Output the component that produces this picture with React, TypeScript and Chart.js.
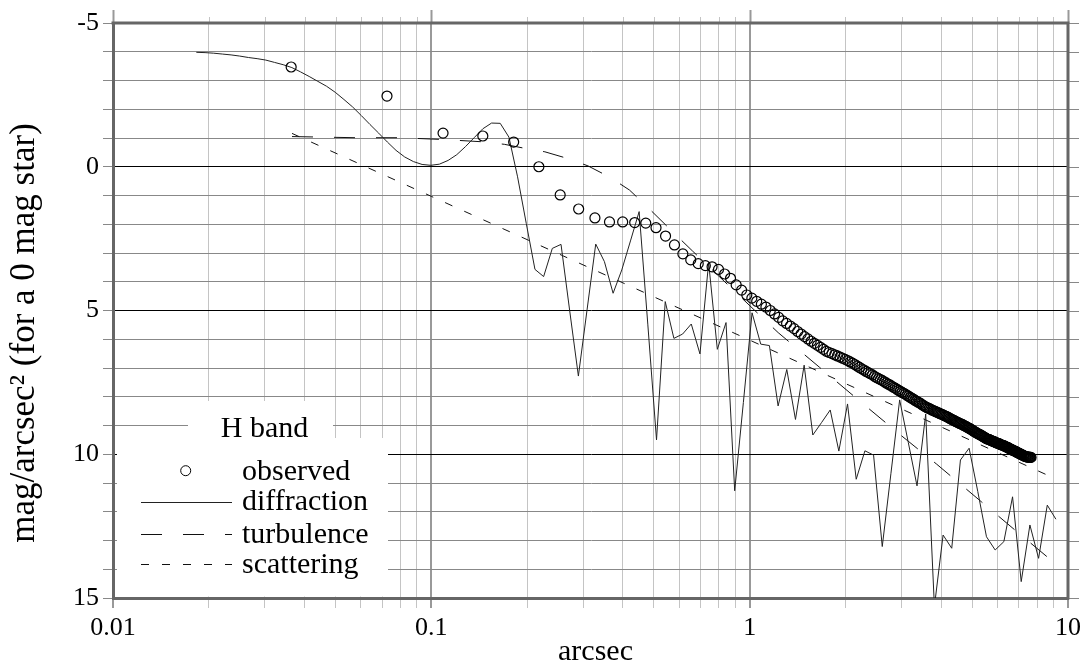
import React, { useEffect, useRef } from 'react';
import { Chart, registerables } from 'chart.js';

Chart.register(...registerables);

const FONT = "'Liberation Serif', 'DejaVu Serif', serif";

// ---------------- data ----------------
// observed: one point per annulus of the detector (annulus width in arcsec)
const ANNULUS = 0.03628;
const observedMag = [
  -3.47, -2.46, -1.17, -1.07, -0.86, 0.0, 0.98, 1.47, 1.78, 1.92, 1.92, 1.94, 1.96, 2.12, 2.41, 2.72, 3.03, 3.24, 3.37, 3.44,
  3.48, 3.57, 3.73, 3.88, 4.11, 4.29, 4.46,
  4.57, 4.68, 4.78, 4.88, 5.0, 5.12, 5.24, 5.36, 5.45, 5.54,
  5.63, 5.73, 5.82, 5.91, 5.99, 6.07, 6.14, 6.21, 6.28, 6.35,
  6.42, 6.46, 6.5, 6.54, 6.58, 6.62, 6.66, 6.7, 6.74, 6.79,
  6.83, 6.88, 6.93, 6.98, 7.03, 7.07, 7.12, 7.16, 7.2, 7.24,
  7.29, 7.33, 7.37, 7.4, 7.44, 7.48, 7.52, 7.56, 7.59, 7.63,
  7.67, 7.7, 7.74, 7.78, 7.81, 7.85, 7.88, 7.91, 7.95, 7.98,
  8.02, 8.05, 8.08, 8.12, 8.15, 8.18, 8.21, 8.24, 8.28, 8.31,
  8.34, 8.37, 8.39, 8.41, 8.43, 8.46, 8.48, 8.5, 8.52, 8.54,
  8.56, 8.58, 8.6, 8.62, 8.64, 8.66, 8.68, 8.7, 8.72, 8.75,
  8.77, 8.79, 8.81, 8.83, 8.85, 8.87, 8.89, 8.91, 8.93, 8.94,
  8.96, 8.98, 9.0, 9.02, 9.04, 9.06, 9.08, 9.1, 9.12, 9.14,
  9.16, 9.19, 9.21, 9.23, 9.25, 9.27, 9.29, 9.31, 9.32, 9.34,
  9.36, 9.38, 9.4, 9.42, 9.44, 9.46, 9.47, 9.48, 9.49, 9.51,
  9.52, 9.53, 9.55, 9.56, 9.57, 9.58, 9.6, 9.61, 9.62, 9.63,
  9.64, 9.66, 9.67, 9.68, 9.69, 9.7, 9.71, 9.73, 9.74, 9.75,
  9.76, 9.78, 9.79, 9.81, 9.82, 9.83, 9.85, 9.86, 9.87, 9.88,
  9.9, 9.91, 9.92, 9.94, 9.95, 9.96, 9.97, 9.99, 10.0, 10.01,
  10.02, 10.04, 10.05, 10.06, 10.07, 10.08, 10.09, 10.09, 10.1, 10.1,
  10.1, 10.11, 10.11, 10.11,
];

const diffractionRadius = [
  0.01827, 0.01946, 0.02072, 0.02206, 0.02349, 0.02501, 0.02663, 0.02836, 0.0302, 0.03215,
  0.03424, 0.03646, 0.03882, 0.04133, 0.04401, 0.04687, 0.0499, 0.05314, 0.05658, 0.06026,
  0.06416, 0.06832, 0.07275, 0.07746, 0.08248, 0.08783, 0.09353, 0.09961, 0.106, 0.1129,
  0.1202, 0.128, 0.1363, 0.1451, 0.1546, 0.1646, 0.1753, 0.1866, 0.1987, 0.2116,
  0.2253, 0.2399, 0.2555, 0.272, 0.2897, 0.3084, 0.3284, 0.3497, 0.3724, 0.3965,
  0.4222, 0.4496, 0.4788, 0.5098, 0.5429, 0.5781, 0.6156, 0.6555, 0.698, 0.7433,
  0.7915, 0.8428, 0.8974, 0.9555, 1.0174, 1.0834, 1.1535, 1.2283, 1.308, 1.3928,
  1.483, 1.5791, 1.6815, 1.7906, 1.9061, 2.0297, 2.1613, 2.3015, 2.4506, 2.6094,
  2.7787, 2.9589, 3.1514, 3.3551, 3.5727, 3.8046, 4.0514, 4.3132, 4.5929, 4.8908,
  5.208, 5.5452, 5.9049, 6.2878, 6.6958, 7.1285, 7.591, 8.0835, 8.6077, 9.1622,
];
const diffractionMag = [
  -3.98, -3.97, -3.95, -3.92, -3.89, -3.85, -3.8, -3.76, -3.71, -3.63,
  -3.55, -3.45, -3.3, -3.14, -2.97, -2.8, -2.59, -2.34, -2.08, -1.78,
  -1.47, -1.17, -0.86, -0.57, -0.34, -0.18, -0.08, -0.05, -0.09, -0.22,
  -0.42, -0.7, -1.01, -1.32, -1.52, -1.51, -1.03, 0.35, 1.97, 3.57,
  3.82, 2.84, 2.7, 5.0, 7.28, 4.98, 2.69, 3.3, 4.4, 3.59,
  2.58, 1.56, 5.5, 9.5, 4.69, 5.97, 5.82, 5.47, 6.51, 3.34,
  6.35, 5.42, 11.27, 8.2, 5.08, 6.17, 6.22, 8.32, 7.05, 8.79,
  6.9, 9.33, 8.9, 8.46, 9.89, 8.25, 10.87, 9.88, 10.03, 13.21,
  10.66, 8.11, 9.6, 11.1, 8.6, 15.3, 12.81, 13.27, 10.2, 9.79,
  11.3, 12.87, 13.33, 13.04, 11.48, 14.43, 12.46, 13.62, 11.77, 12.26,
];

const turbulenceRadius = [
  0.0365, 0.0578, 0.079, 0.1075, 0.144, 0.1696, 0.1968, 0.2273, 0.2675, 0.3105, 0.3645, 0.4192,
  0.4783, 0.5727, 0.6613, 1.0563, 1.229, 1.6596, 2.2499, 3.0013, 3.8627, 5.3409, 6.9567, 9.162,
];
const turbulenceMag = [
  -1.05, -1.01, -1.01, -0.95, -0.87, -0.78, -0.64, -0.52, -0.29, -0.03, 0.37, 0.81,
  1.41, 2.26, 2.93, 5.08, 5.77, 6.98, 8.21, 9.36, 10.34, 11.65, 12.72, 13.82,
];

const scatteringRadius = [0.0365, 0.1, 1, 9.162];
const scatteringMag = [-1.16, 1.03, 6.03, 10.86];

const xTickValues = [0.01, 0.1, 1, 10];
const xTickLabels = ['0.01', '0.1', '1', '10'];
const yTickLabels = ['-5', '0', '5', '10', '15'];
const yTickValues = [-5, 0, 5, 10, 15];
const xTitle = 'arcsec';
const yTitle = 'mag/arcsec\u00B2 (for a 0 mag star)';
const legendTitle = 'H band';
const legendLabels = ['observed', 'diffraction', 'turbulence', 'scattering'];

const pairs = (xs: number[], ys: number[]) => ys.map((y, i) => ({ x: xs[i], y }));
const observedPoints = observedMag.map((y, i) => ({ x: (i + 1) * ANNULUS, y }));

// log gridline positions 1..9 x 10^n
const xGrid: number[] = [];
for (let e = -2; e <= 0; e++) for (let m = 1; m <= 9; m++) xGrid.push(m * Math.pow(10, e));
xGrid.push(10);

const isDecade = (v: number) => {
  const l = Math.log10(v);
  return Math.abs(l - Math.round(l)) < 1e-6;
};

const decorPlugin = {
  id: 'decor',
  beforeDatasetsDraw(chart: any) {
    const { ctx, chartArea: a } = chart;
    ctx.save();
    ctx.fillStyle = '#ffffff';
    // title box and main legend box
    ctx.fillRect(a.left + 75, a.bottom - 197, 145, 38);
    ctx.fillRect(a.left + 4, a.bottom - 160, 271, 158.5);
    ctx.restore();
  },
  afterDatasetsDraw(chart: any) {
    const { ctx, chartArea: a, scales } = chart;
    const xs = scales.x;
    const ys = scales.y;
    ctx.save();
    // top ticks
    for (const v of xGrid) {
      const px = Math.round(xs.getPixelForValue(v)) + 0.5;
      const maj = isDecade(v);
      ctx.strokeStyle = maj ? '#999999' : '#c4c4c4';
      ctx.lineWidth = maj ? 2 : 1;
      ctx.beginPath();
      ctx.moveTo(px, a.top);
      ctx.lineTo(px, a.top - (maj ? 13 : 6));
      ctx.stroke();
    }
    // right ticks
    for (let v = -5; v <= 15; v++) {
      const py = Math.round(ys.getPixelForValue(v)) + 0.5;
      ctx.strokeStyle = '#888888';
      ctx.lineWidth = 1;
      ctx.beginPath();
      ctx.moveTo(a.right, py);
      ctx.lineTo(a.right + 11, py);
      ctx.stroke();
    }
    // top & right frame
    ctx.strokeStyle = '#666666';
    ctx.lineWidth = 3;
    ctx.beginPath();
    ctx.moveTo(a.left - 1.5, a.top);
    ctx.lineTo(a.right + 1.5, a.top);
    ctx.moveTo(a.right, a.top);
    ctx.lineTo(a.right, a.bottom + 1.5);
    ctx.stroke();

    // axis titles
    ctx.fillStyle = '#000';
    ctx.textAlign = 'center';
    ctx.textBaseline = 'alphabetic';
    ctx.font = `30px ${FONT}`;
    ctx.fillText(xTitle, (a.left + a.right) / 2 + 5, 660);
    ctx.save();
    ctx.translate(34, 333);
    ctx.rotate(-Math.PI / 2);
    ctx.font = `35px ${FONT}`;
    ctx.fillText(yTitle, 0, 0);
    ctx.restore();

    // legend content
    const L = a.left;
    const B = a.bottom;
    ctx.fillStyle = '#000';
    ctx.font = `30px ${FONT}`;
    ctx.textBaseline = 'alphabetic';
    ctx.textAlign = 'center';
    ctx.fillText(legendTitle, L + 151.5, B - 161);
    ctx.textAlign = 'left';
    const baselines = [B - 118.5, B - 88, B - 55, B - 25];
    const symY = [B - 127.3, B - 96.3, B - 63.7, B - 33.7];
    legendLabels.forEach((t, i) => ctx.fillText(t, L + 129, baselines[i]));
    // symbols
    ctx.strokeStyle = '#000';
    ctx.lineWidth = 1;
    ctx.beginPath();
    ctx.arc(L + 72.7, symY[0], 5, 0, Math.PI * 2);
    ctx.stroke();
    const x0 = L + 28;
    const x1 = L + 119;
    const drawSample = (y: number, dash: number[], color: string) => {
      ctx.strokeStyle = color;
      ctx.setLineDash(dash);
      ctx.beginPath();
      ctx.moveTo(x0, Math.round(y) + 0.5);
      ctx.lineTo(x1, Math.round(y) + 0.5);
      ctx.stroke();
    };
    drawSample(symY[1], [], '#222');
    drawSample(symY[2], [21, 21], '#111');
    drawSample(symY[3], [8, 13], '#111');
    ctx.setLineDash([]);
    ctx.restore();
  },
};

export default function App() {
  const ref = useRef<HTMLCanvasElement>(null);
  useEffect(() => {
    if (!ref.current) return;
    const chart = new Chart(ref.current, {
      type: 'line',
      data: {
        datasets: [
          {
            label: legendLabels[0],
            data: observedPoints,
            showLine: false,
            pointStyle: 'circle',
            pointRadius: 5,
            pointBorderWidth: 1.2,
            pointBorderColor: '#000',
            pointBackgroundColor: 'rgba(0,0,0,0)',
            borderColor: '#000',
          },
          {
            label: legendLabels[1],
            data: pairs(diffractionRadius, diffractionMag),
            borderColor: '#222',
            borderWidth: 1,
            pointRadius: 0,
            tension: 0,
          },
          {
            label: legendLabels[2],
            data: pairs(turbulenceRadius, turbulenceMag),
            borderColor: '#111',
            borderWidth: 1,
            borderDash: [21, 21],
            pointRadius: 0,
            tension: 0,
          },
          {
            label: legendLabels[3],
            data: pairs(scatteringRadius, scatteringMag),
            borderColor: '#111',
            borderWidth: 1,
            borderDash: [8, 13],
            pointRadius: 0,
            tension: 0,
          },
        ],
      },
      options: {
        responsive: false,
        animation: false,
        devicePixelRatio: 1,
        layout: { padding: { top: 23, right: 14, left: 0, bottom: 0 } },
        plugins: { legend: { display: false }, tooltip: { enabled: false } },
        font: { family: FONT },
        scales: {
          x: {
            type: 'logarithmic',
            min: 0.01,
            max: 10,
            afterBuildTicks: (s: any) => {
              s.ticks = xGrid.map((v) => ({ value: v, major: isDecade(v) }));
            },
            afterFit: (s: any) => {
              s.height = 68;
            },
            ticks: {
              autoSkip: false,
              maxRotation: 0,
              minRotation: 0,
              padding: 5,
              color: '#000',
              font: { family: FONT, size: 26 },
              callback: (v: any) => {
                const idx = xTickValues.findIndex((t) => Math.abs(Math.log10(t) - Math.log10(Number(v))) < 1e-6);
                return idx >= 0 ? xTickLabels[idx] : '';
              },
            },
            grid: {
              color: (c: any) => (c.tick && isDecade(c.tick.value) ? '#999999' : '#c4c4c4'),
              lineWidth: (c: any) => (c.tick && isDecade(c.tick.value) ? 2 : 1),
              tickColor: (c: any) => (c.tick && isDecade(c.tick.value) ? '#999999' : '#c4c4c4'),
              tickLength: 10,
            },
            border: { display: true, color: '#666666', width: 3 },
            title: { display: false },
          },
          y: {
            type: 'linear',
            reverse: true,
            min: -5,
            max: 15,
            afterFit: (s: any) => {
              s.width = 113;
            },
            ticks: {
              stepSize: 1,
              autoSkip: false,
              padding: 4,
              color: '#000',
              font: { family: FONT, size: 26 },
              callback: (v: any) => {
                const idx = yTickValues.indexOf(Number(v));
                return idx >= 0 ? yTickLabels[idx] : '';
              },
            },
            grid: {
              color: (c: any) => (c.tick && c.tick.value % 5 === 0 ? '#000000' : '#888888'),
              lineWidth: 1,
              tickColor: '#888888',
              tickLength: 10,
            },
            border: { display: true, color: '#666666', width: 3 },
            title: { display: false },
          },
        },
      } as any,
      plugins: [decorPlugin],
    });
    return () => chart.destroy();
  }, []);

  return (
    <div style={{ position: 'absolute', left: 0, top: 0, width: 1086, height: 666, background: '#fff' }}>
      <canvas ref={ref} width={1086} height={666} style={{ display: 'block', width: 1086, height: 666 }} />
    </div>
  );
}
